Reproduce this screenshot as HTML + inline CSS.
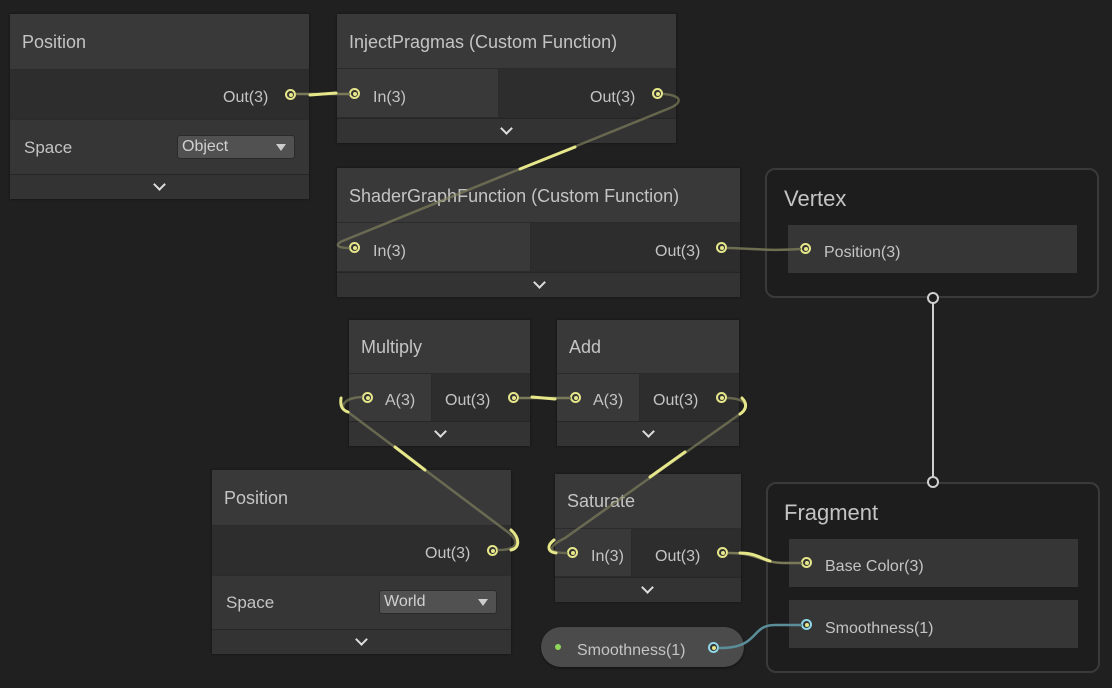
<!DOCTYPE html>
<html><head><meta charset="utf-8"><style>
body{margin:0;width:1112px;height:688px;background:#202020;overflow:hidden;position:relative;font-family:"Liberation Sans",sans-serif;color:#c8c8c8}
.n{position:absolute;background:#2b2b2b;box-shadow:0 0 2px #111}
.h{position:absolute;left:0;right:0;top:0;background:#393939;font-size:18px;padding-left:12px;box-sizing:border-box;color:#c4c4c4}
.r{position:absolute;background:#393939}
.o{position:absolute;background:#2d2d2d}
.f{position:absolute;left:0;right:0;bottom:0;height:24px;background:#333;border-top:1px solid #262626}
.t{position:absolute;font-size:16px;color:#c4c4c4;white-space:nowrap}
.ch{position:absolute;width:7px;height:7px;border-right:2px solid #ddd;border-bottom:2px solid #ddd;transform:rotate(45deg)}
.p{position:absolute;width:11px;height:11px;border-radius:50%;border:2px solid #e6e68a;box-sizing:border-box;background:#333}
.p::after{content:"";position:absolute;left:1.5px;top:1.5px;width:4px;height:4px;border-radius:50%;background:#e6e68a}
.m{position:absolute;border:2px solid #3a3a3a;border-radius:10px;background:#1d1d1d;box-sizing:border-box}
.s{position:absolute;background:#363636}
</style></head><body>

<!-- Position 1 -->
<div class="n" style="left:10px;top:14px;width:299px;height:185px">
<div class="h" style="height:55px;line-height:56px">Position</div>
<div class="o" style="left:0;right:0;top:56px;height:49px"></div>
<div class="r" style="left:0;right:0;top:106px;height:54px;background:#363636"></div>
<div class="f"></div>
</div>
<div class="t" style="left:223px;top:89px">Out(3)</div>
<div class="p" style="left:285px;top:89px"></div>
<div class="t" style="left:24px;top:138px;font-size:17px">Space</div>
<div style="position:absolute;left:177px;top:135px;width:118px;height:24px;background:#515151;border-radius:3px;border:1px solid #2a2a2a;box-sizing:border-box"></div>
<div class="t" style="left:182px;top:138px;font-size:16px;color:#d0d0d0">Object</div>
<div style="position:absolute;left:276px;top:144px;border-left:5px solid transparent;border-right:5px solid transparent;border-top:7px solid #ccc"></div>
<div class="ch" style="left:155px;top:180px"></div>

<!-- InjectPragmas -->
<div class="n" style="left:337px;top:14px;width:339px;height:129px">
<div class="h" style="height:54px;line-height:56px">InjectPragmas (Custom Function)</div>
<div class="r" style="left:0;width:161px;top:55px;height:48px"></div>
<div class="o" style="left:162px;right:0;top:55px;height:48px"></div>
<div class="f"></div>
</div>
<div class="p" style="left:349px;top:88px"></div>
<div class="t" style="left:373px;top:89px">In(3)</div>
<div class="t" style="left:590px;top:89px">Out(3)</div>
<div class="p" style="left:652px;top:88px"></div>
<div class="ch" style="left:502px;top:124px"></div>

<!-- ShaderGraphFunction -->
<div class="n" style="left:337px;top:168px;width:403px;height:129px">
<div class="h" style="height:54px;line-height:56px">ShaderGraphFunction (Custom Function)</div>
<div class="r" style="left:0;width:193px;top:55px;height:48px"></div>
<div class="o" style="left:194px;right:0;top:55px;height:48px"></div>
<div class="f"></div>
</div>
<div class="p" style="left:349px;top:242px"></div>
<div class="t" style="left:373px;top:243px">In(3)</div>
<div class="t" style="left:655px;top:243px">Out(3)</div>
<div class="p" style="left:716px;top:242px"></div>
<div class="ch" style="left:535px;top:278px"></div>

<!-- Vertex -->
<div class="m" style="left:765px;top:168px;width:334px;height:130px"></div>
<div class="t" style="left:784px;top:186px;font-size:22px">Vertex</div>
<div class="s" style="left:788px;top:225px;width:289px;height:48px"></div>
<div class="p" style="left:800px;top:243px"></div>
<div class="t" style="left:824px;top:244px">Position(3)</div>

<!-- Multiply -->
<div class="n" style="left:349px;top:320px;width:181px;height:126px">
<div class="h" style="height:53px;line-height:55px">Multiply</div>
<div class="r" style="left:0;width:82px;top:54px;height:47px"></div>
<div class="o" style="left:83px;right:0;top:54px;height:47px"></div>
<div class="f"></div>
</div>
<div class="p" style="left:362px;top:392px"></div>
<div class="t" style="left:385px;top:392px">A(3)</div>
<div class="t" style="left:445px;top:392px">Out(3)</div>
<div class="p" style="left:508px;top:392px"></div>
<div class="ch" style="left:436px;top:427px"></div>

<!-- Add -->
<div class="n" style="left:557px;top:320px;width:182px;height:126px">
<div class="h" style="height:53px;line-height:55px">Add</div>
<div class="r" style="left:0;width:82px;top:54px;height:47px"></div>
<div class="o" style="left:83px;right:0;top:54px;height:47px"></div>
<div class="f"></div>
</div>
<div class="p" style="left:570px;top:392px"></div>
<div class="t" style="left:593px;top:392px">A(3)</div>
<div class="t" style="left:653px;top:392px">Out(3)</div>
<div class="p" style="left:716px;top:392px"></div>
<div class="ch" style="left:644px;top:427px"></div>

<!-- Position 2 -->
<div class="n" style="left:212px;top:470px;width:299px;height:184px">
<div class="h" style="height:55px;line-height:56px">Position</div>
<div class="o" style="left:0;right:0;top:56px;height:49px"></div>
<div class="r" style="left:0;right:0;top:106px;height:54px;background:#363636"></div>
<div class="f"></div>
</div>
<div class="t" style="left:425px;top:545px">Out(3)</div>
<div class="p" style="left:487px;top:545px"></div>
<div class="t" style="left:226px;top:593px;font-size:17px">Space</div>
<div style="position:absolute;left:379px;top:590px;width:118px;height:24px;background:#515151;border-radius:3px;border:1px solid #2a2a2a;box-sizing:border-box"></div>
<div class="t" style="left:384px;top:593px;font-size:16px;color:#d0d0d0">World</div>
<div style="position:absolute;left:478px;top:599px;border-left:5px solid transparent;border-right:5px solid transparent;border-top:7px solid #ccc"></div>
<div class="ch" style="left:357px;top:635px"></div>

<!-- Saturate -->
<div class="n" style="left:555px;top:474px;width:186px;height:128px">
<div class="h" style="height:54px;line-height:55px">Saturate</div>
<div class="r" style="left:0;width:76px;top:55px;height:47px"></div>
<div class="o" style="left:77px;right:0;top:55px;height:47px"></div>
<div class="f"></div>
</div>
<div class="p" style="left:567px;top:547px"></div>
<div class="t" style="left:591px;top:548px">In(3)</div>
<div class="t" style="left:655px;top:548px">Out(3)</div>
<div class="p" style="left:717px;top:547px"></div>
<div class="ch" style="left:643px;top:583px"></div>

<!-- Fragment -->
<div class="m" style="left:766px;top:482px;width:334px;height:191px"></div>
<div class="t" style="left:784px;top:500px;font-size:22px">Fragment</div>
<div class="s" style="left:789px;top:539px;width:289px;height:48px"></div>
<div class="p" style="left:801px;top:557px"></div>
<div class="t" style="left:825px;top:558px">Base Color(3)</div>
<div class="s" style="left:789px;top:600px;width:289px;height:48px"></div>
<div class="p" style="left:801px;top:619px;border-color:#8fd6e6"></div>
<div class="t" style="left:825px;top:620px">Smoothness(1)</div>

<!-- Smoothness pill -->
<div style="position:absolute;left:541px;top:627px;width:203px;height:40px;border-radius:20px;background:#4b4b4b;box-shadow:0 1px 2px #111"></div>
<div style="position:absolute;left:555px;top:644px;width:6px;height:6px;border-radius:50%;background:#8fd65a"></div>
<div class="t" style="left:577px;top:642px">Smoothness(1)</div>
<div class="p" style="left:708px;top:642px;border-color:#8fd6e6"></div>

<svg width="1112" height="688" style="position:absolute;left:0;top:0" fill="none">
<g stroke-width="2.5" stroke-linecap="round">
<path d="M297 94 L349 94" stroke="#7a7a58"/>
<path d="M310 95 L336 93" stroke="#e6e68a" stroke-width="3"/>
<path d="M664 94 C685 96 680 104 670 108 L345 240 C334 244 336 248 349 248" stroke="rgba(140,140,100,0.6)"/>
<path d="M575 147 L520 169" stroke="#e6e68a" stroke-width="3"/>
<path d="M728 248 C760 249 770 251 800 249" stroke="#6e6e50"/>
<path d="M520 398 L570 398" stroke="#7a7a58"/>
<path d="M532 397 L555 399" stroke="#e6e68a" stroke-width="3"/>
<path d="M362 397 C340 398 340 410 348 412 L505 530 C520 540 520 550 498 550" stroke="rgba(140,140,100,0.6)"/>
<path d="M395 447 L425 470" stroke="#e6e68a" stroke-width="3"/>
<path d="M728 398 C750 399 748 410 740 414 L565 538 C545 548 550 553 567 553" stroke="rgba(140,140,100,0.6)"/>
<path d="M685 452 L650 477" stroke="#e6e68a" stroke-width="3"/>
<path d="M341 398 C340 406 342 410 348 412" stroke="#e6e68a" stroke-width="3"/>
<path d="M742 398 C748 404 746 410 740 414" stroke="#e6e68a" stroke-width="3"/>
<path d="M511 530 C520 538 520 548 511 550" stroke="#e6e68a" stroke-width="3"/>
<path d="M554 540 C546 546 548 552 556 553" stroke="#e6e68a" stroke-width="3"/>
<path d="M729 553 C760 553 760 563 785 563 L801 563" stroke="#7a7a58"/>
<path d="M740 553 C755 553 760 558 770 561" stroke="#e6e68a" stroke-width="3"/>
<path d="M720 648 C760 648 750 625 775 625 L801 625" stroke="#5a8f9a"/>
<path d="M933 303 L933 477" stroke="#cfcfcf" stroke-width="2"/>
</g>
<circle cx="933" cy="298" r="5" stroke="#cfcfcf" stroke-width="2" fill="#1d1d1d"/>
<circle cx="933" cy="482" r="5" stroke="#cfcfcf" stroke-width="2" fill="#1d1d1d"/>
</svg>
</body></html>
